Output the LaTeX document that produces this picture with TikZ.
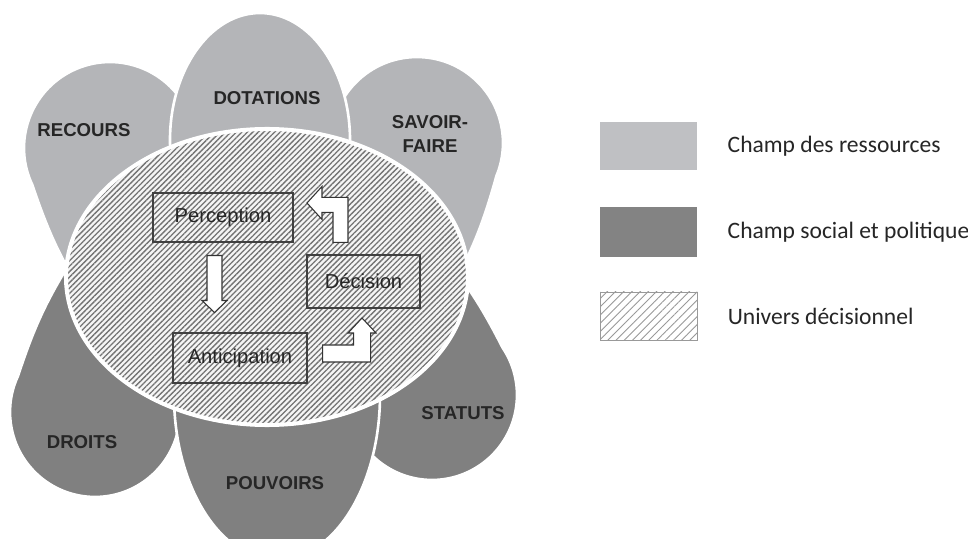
\documentclass[tikz,border=0pt]{standalone}
\usepackage{fontspec}
\setmainfont{Liberation Sans}
\newfontfamily\legfont{Carlito}
\usetikzlibrary{positioning,calc,patterns.meta}

\definecolor{resgray}{HTML}{B4B5B8}
\definecolor{socgray}{HTML}{808080}

\tikzset{
    petal/.style={draw=white, line width=1.5pt, line join=round},
    petallabel/.style={font=\fontsize{10.6}{14.2}\selectfont\bfseries, text=black!85, align=center},
    core/.style={draw=white, line width=2.3pt, preaction={fill=black!4},
        pattern={Lines[angle=45, distance=2.2pt, line width=0.75pt]}, pattern color=black!55},
    stage/.style={draw=black!75, line width=0.6pt, inner sep=0pt,
        font=\fontsize{11.5}{13}\selectfont, text=black!85},
    blockarr/.style={fill=white, draw=black!80, line width=0.6pt, line join=miter},
    legbox/.style={minimum width=1.94cm, minimum height=0.96cm, inner sep=0pt},
    leglabel/.style={font=\legfont\fontsize{13.4}{16}\selectfont, text=black!85, inner sep=0pt}
}

% teardrop petal: round centre, tip direction, tip distance, radius, colour
\newcommand{\teardrop}[6]{%
    \pgfmathsetmacro{\tdphi}{acos(#5/#4)}%
    \path[petal, fill=#6, shift={(#1,#2)}, rotate=#3-90]
        (0,#4) to[bend left=7] ({90-\tdphi}:#5) arc[start angle={90-\tdphi}, end angle={-270+\tdphi}, radius=#5]
        to[bend left=7] (0,#4) -- cycle;}

\begin{document}
\begin{tikzpicture}
    \fill[white] (0,0) rectangle (19.36,10.76);
    \useasboundingbox (0,0) rectangle (19.36,10.76);
    \clip (0,0) rectangle (19.36,10.76);

    % petals
    \teardrop{2.20}{7.80}{262.7}{3.17}{1.72}{resgray}
    \teardrop{8.34}{7.90}{280.1}{3.19}{1.72}{resgray}
    \teardrop{1.90}{2.52}{97.3}{3.17}{1.70}{socgray}
    \teardrop{8.64}{2.86}{90.7}{3.10}{1.70}{socgray}
    \path[petal, fill=resgray] (5.20,7.96) ellipse [x radius=1.80, y radius=2.54];
    \path[petal, fill=socgray] (5.54,2.86) ellipse [x radius=2.06, y radius=3.30];

    \node[petallabel] (rec) at (1.68,8.16) {RECOURS};
    \node[petallabel] (dot) at (5.34,8.80) {DOTATIONS};
    \node[petallabel] (sav) at (8.60,8.08) {SAVOIR-\\FAIRE};
    \node[petallabel] (sta) at (9.26,2.50) {STATUTS};
    \node[petallabel] (dro) at (1.64,1.92) {DROITS};
    \node[petallabel] (pou) at (5.50,1.10) {POUVOIRS};

    % decision universe
    \path[core] (5.34,5.22) ellipse [x radius=4.02, y radius=2.96];

    \node[stage, minimum width=2.80cm, minimum height=0.98cm] (perc) at (4.46,6.41) {Perception};
    \node[stage, minimum width=2.26cm, minimum height=1.06cm] (dec) at (7.27,5.13) {Décision};
    \node[stage, minimum width=2.68cm, minimum height=1.0cm] (ant) at (4.80,3.60) {Anticipation};

    \draw[blockarr] ($(perc.south)+(-0.32,-0.26)$) -- ++(0.3,0) -- ++(0,-0.9) -- ++(0.1,0)
        -- ++(-0.25,-0.24) -- ++(-0.25,0.24) -- ++(0.1,0) -- cycle;
    \draw[blockarr] ($(dec.north)+(-0.61,0.24)$) -- ++(0.3,0) -- ++(0,0.9) -- ++(-0.52,0) -- ++(0,0.22)
        -- ++(-0.30,-0.33) -- ++(0.30,-0.33) -- ++(0,0.14) -- ++(0.22,0) -- cycle;
    \draw[blockarr] ($(ant.east)+(0.30,-0.08)$) -- ++(0,0.34) -- ++(0.62,0) -- ++(0,0.24) -- ++(-0.11,0)
        -- ++(0.28,0.30) -- ++(0.28,-0.30) -- ++(-0.11,0) -- ++(0,-0.58) -- cycle;

    % legend
    \node[legbox, fill=resgray!85] (legres) at (12.97,7.84) {};
    \node[legbox, fill=socgray!98, minimum height=1.0cm] (legsoc) at (12.97,6.12) {};
    \node[legbox, draw=black!40, pattern={Lines[angle=45, distance=3.3pt, line width=0.5pt]},
        pattern color=black!40] (leguni) at (12.97,4.44) {};

    \node[leglabel, right=0.6cm of legres] (txres) {Champ des ressources};
    \node[leglabel, right=0.6cm of legsoc] (txsoc) {Champ social et politique};
    \node[leglabel, right=0.6cm of leguni] (txuni) {Univers décisionnel};
\end{tikzpicture}
\end{document}
